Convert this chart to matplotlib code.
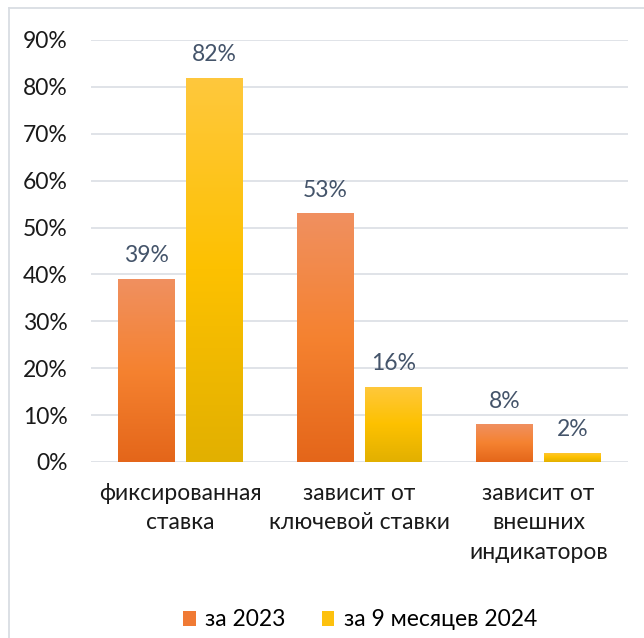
import numpy as np
import matplotlib.pyplot as plt
from matplotlib.patches import Rectangle
from matplotlib.colors import LinearSegmentedColormap
from matplotlib.lines import Line2D

plt.rcParams['font.family'] = ['Lato', 'DejaVu Sans']

# data
categories = ['фиксированная\nставка', 'зависит от\nключевой ставки', 'зависит от\nвнешних\nиндикаторов']
series_names = ['за 2023', 'за 9 месяцев 2024']
vals_2023 = [39, 53, 8]
vals_2024 = [82, 16, 2]
yticks = [0, 10, 20, 30, 40, 50, 60, 70, 80, 90]

# gradients (bottom -> top)
orange_cmap = LinearSegmentedColormap.from_list('or', ['#E4661A', '#F58230', '#F09060'])
yellow_cmap = LinearSegmentedColormap.from_list('ye', ['#E2B000', '#FDC100', '#FFC83D'])

fs = 16.5

fig = plt.figure(figsize=(6.44, 6.38), dpi=100)
ax = fig.add_axes([91/644, 1 - 462/638, (628-91)/644, (462-40)/638])

ax.set_xlim(-0.5, 2.5)
ax.set_ylim(0, 90)
ax.set_yticks(yticks)
ax.set_yticklabels([f'{t}%' for t in yticks])
ax.yaxis.grid(True, color='#DDE1E6', linewidth=1.3)
ax.set_axisbelow(True)
for s in ax.spines.values():
    s.set_visible(False)
ax.tick_params(axis='y', length=0, pad=17, labelsize=fs, labelcolor='#1a1a1a')
ax.tick_params(axis='x', length=0, pad=15, labelsize=fs, labelcolor='#1a1a1a')

x = np.arange(len(categories))
ax.set_xticks(x)
ax.set_xticklabels(categories, linespacing=1.5, va='top')

w = 0.313
gap = 0.067
grad = np.linspace(0, 1, 256).reshape(-1, 1)

def gbar(xc, h, cmap):
    r = Rectangle((xc - w/2, 0), w, h, facecolor='none', edgecolor='none')
    ax.add_patch(r)
    im = ax.imshow(grad, cmap=cmap, origin='lower', aspect='auto',
                   extent=(xc - w/2, xc + w/2, 0, h), zorder=2)
    im.set_clip_path(r)

for i in range(len(categories)):
    x1 = x[i] - gap/2 - w/2
    x2 = x[i] + gap/2 + w/2
    gbar(x1, vals_2023[i], orange_cmap)
    gbar(x2, vals_2024[i], yellow_cmap)
    ax.text(x1, vals_2023[i] + 5.0, f'{vals_2023[i]}%', ha='center', va='center',
            fontsize=fs, color='#44546A')
    ax.text(x2, vals_2024[i] + 5.0, f'{vals_2024[i]}%', ha='center', va='center',
            fontsize=fs, color='#44546A')
ax.set_xlim(-0.5, 2.5)
ax.set_ylim(0, 90)

handles = [Rectangle((0, 0), 1, 1, facecolor='#F07A34'),
           Rectangle((0, 0), 1, 1, facecolor='#FDC10E')]
fig.legend(handles, series_names, loc='center', bbox_to_anchor=(360/644, 1 - 620/638),
           ncol=2, frameon=False, fontsize=fs, handlelength=0.55, handleheight=0.6,
           handletextpad=0.4, columnspacing=1.6)

# outer frame
fig.add_artist(Line2D([9/644, 9/644], [0, 1 - 8/638], transform=fig.transFigure,
                      color='#D9DDE3', linewidth=1.3))
fig.add_artist(Line2D([9/644, 1], [1 - 8/638, 1 - 8/638], transform=fig.transFigure,
                      color='#D9DDE3', linewidth=1.3))

fig.savefig('out.png', dpi=100)
